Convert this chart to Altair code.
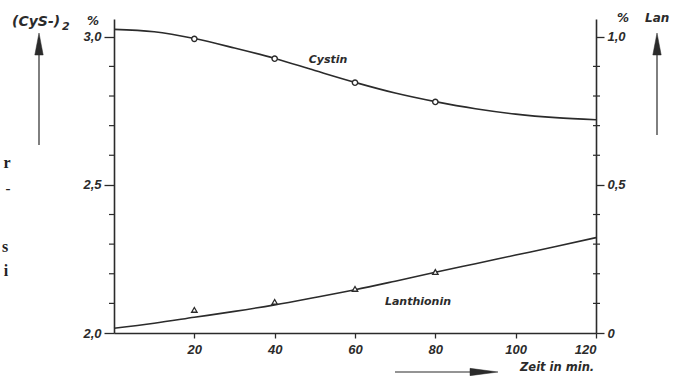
import altair as alt
import pandas as pd

# Reaction time in minutes
time_curve = [0, 10, 20, 30, 40, 50, 60, 70, 80, 90, 100, 110, 120]
# Smoothed curves: cystine (%) and lanthionine (%)
cystin_curve = [3.025, 3.017, 2.994, 2.962, 2.927, 2.886, 2.846, 2.81, 2.781, 2.757, 2.739, 2.727, 2.72]
lan_curve = [0.016, 0.033, 0.053, 0.073, 0.095, 0.12, 0.146, 0.175, 0.205, 0.234, 0.263, 0.292, 0.322]

# Measured points
time_points = [20, 40, 60, 80]
cystin_points = [2.993, 2.926, 2.845, 2.78]
lan_points = [0.078, 0.105, 0.149, 0.206]

# Axis ticks
time_ticks = [20, 40, 60, 80, 100, 120]
cys_ticks = [2.0, 2.5, 3.0]
cys_minor = [2.1, 2.2, 2.3, 2.4, 2.6, 2.7, 2.8, 2.9]
lan_ticks = [0.0, 0.5, 1.0]
lan_minor = [0.1, 0.2, 0.3, 0.4, 0.6, 0.7, 0.8, 0.9]

INK = "#2b2b2b"
FONT = "Liberation Sans"
LABEL_FONT = "DejaVu Sans"

curve_df = pd.DataFrame({"t": time_curve, "cys": cystin_curve, "lan": lan_curve})
pts_df = pd.DataFrame({"t": time_points, "cys": cystin_points, "lan": lan_points})
cys_minor_df = pd.DataFrame({"cys": cys_minor})
lan_minor_df = pd.DataFrame({"lan": lan_minor})

x_enc = alt.X(
    "t:Q",
    scale=alt.Scale(domain=[0, 120], nice=False, zero=False),
    axis=alt.Axis(values=time_ticks, format="d", title=None, tickSize=5,
                  labelPadding=5, orient="bottom"),
)
y_cys = alt.Y(
    "cys:Q",
    scale=alt.Scale(domain=[2.0, 3.06], nice=False, zero=False),
    axis=alt.Axis(values=cys_ticks, title=None, orient="left", tickSize=10,
                  labelPadding=3,
                  labelExpr="replace(format(datum.value, '.1f'), '.', ',')"),
)
y_lan = alt.Y(
    "lan:Q",
    scale=alt.Scale(domain=[0.0, 1.06], nice=False, zero=False),
    axis=alt.Axis(values=lan_ticks, title=None, orient="right", tickSize=8,
                  labelPadding=3,
                  labelExpr="datum.value == 0 ? '0' : replace(format(datum.value, '.1f'), '.', ',')"),
)

# Cystine layers (left scale)
cys_line = alt.Chart(curve_df).mark_line(interpolate="monotone", color=INK, strokeWidth=1.6).encode(x=x_enc, y=y_cys)
cys_pts = alt.Chart(pts_df).mark_point(shape="circle", size=28, filled=True, fill="white",
                                       stroke=INK, strokeWidth=1.4, opacity=1).encode(x=x_enc, y=y_cys)
cys_minor_ticks = alt.Chart(cys_minor_df).mark_rule(color=INK, strokeWidth=1.2).encode(
    y=y_cys, x=alt.value(-5), x2=alt.value(1))
cys_layer = alt.layer(cys_line, cys_pts, cys_minor_ticks)

# Lanthionine layers (right scale)
lan_line = alt.Chart(curve_df).mark_line(interpolate="monotone", color=INK, strokeWidth=1.6).encode(x=x_enc, y=y_lan)
lan_pts = alt.Chart(pts_df).mark_point(shape="triangle-up", size=30, filled=True, fill="white",
                                       stroke=INK, strokeWidth=1.3, opacity=1).encode(x=x_enc, y=y_lan)
lan_minor_ticks = alt.Chart(lan_minor_df).mark_rule(color=INK, strokeWidth=1.2).encode(
    y=y_lan, x=alt.value(479), x2=alt.value(486))
lan_layer = alt.layer(lan_line, lan_pts, lan_minor_ticks)

one = pd.DataFrame({"k": [0]})


def label(text, x, y, size=12, align="center", font=LABEL_FONT, style="italic", weight="bold", color=INK):
    return alt.Chart(one).mark_text(
        text=text, font=font, fontSize=size, fontStyle=style, fontWeight=weight,
        align=align, baseline="middle", color=color,
    ).encode(x=alt.value(x), y=alt.value(y))


def shaft(x1, y1, x2, y2):
    return alt.Chart(one).mark_rule(color=INK, strokeWidth=1.2).encode(
        x=alt.value(x1), y=alt.value(y1), x2=alt.value(x2), y2=alt.value(y2))


def head(x, y, path, size):
    return alt.Chart(one).mark_point(shape=path, size=size, filled=True, fill=INK,
                                     stroke=INK, strokeWidth=0.5, opacity=1).encode(
        x=alt.value(x), y=alt.value(y))


UP = "M0,-1L0.38,1L-0.38,1Z"
RIGHT = "M1,0L-1,-0.26L-1,0.26Z"

annotations = [
    label("Cystin", 214, 41, size=11),
    label("Lanthionin", 304, 283, size=11),
    label("(CyS-)", -102, 3, size=14, align="left"),
    label("2", -52, 8, size=11, align="left"),
    label("%", -21, 2, size=12),
    label("%", 509, -1, size=12),
    label("Lan", 531, -1, size=12, align="left"),
    label("Zeit  in  min.", 406, 349, size=11.5, align="left"),
    shaft(-75, 126, -75, 30),
    head(-75, 25, UP, 484),
    shaft(543, 116, 543, 30),
    head(543, 25, UP, 484),
    shaft(281, 353, 365, 353),
    head(370, 353, RIGHT, 784),
    label("r", -107, 144, size=16, font="Liberation Serif", style="normal", color="#222"),
    label("-", -106, 169, size=15, font="Liberation Serif", style="normal", color="#222"),
    label("s", -109, 228, size=16, font="Liberation Serif", style="normal", color="#222"),
    label("i", -108, 252, size=16, font="Liberation Serif", style="normal", color="#222"),
]

chart = alt.layer(cys_layer, lan_layer, *annotations).resolve_scale(
    y="independent"
).properties(
    width=482,
    height=314,
    padding={"left": 114, "top": 19, "right": 77, "bottom": 43},
    autosize=alt.AutoSizeParams(type="none"),
    background="white",
).configure_view(stroke=None).configure_axis(
    grid=False,
    domainColor=INK,
    domainWidth=1.6,
    tickColor=INK,
    tickWidth=1.3,
    labelColor=INK,
    labelFont=FONT,
    labelFontStyle="italic",
    labelFontWeight="bold",
    labelFontSize=13,
)

chart.save("out.html", embed_options={"renderer": "svg", "actions": False})
